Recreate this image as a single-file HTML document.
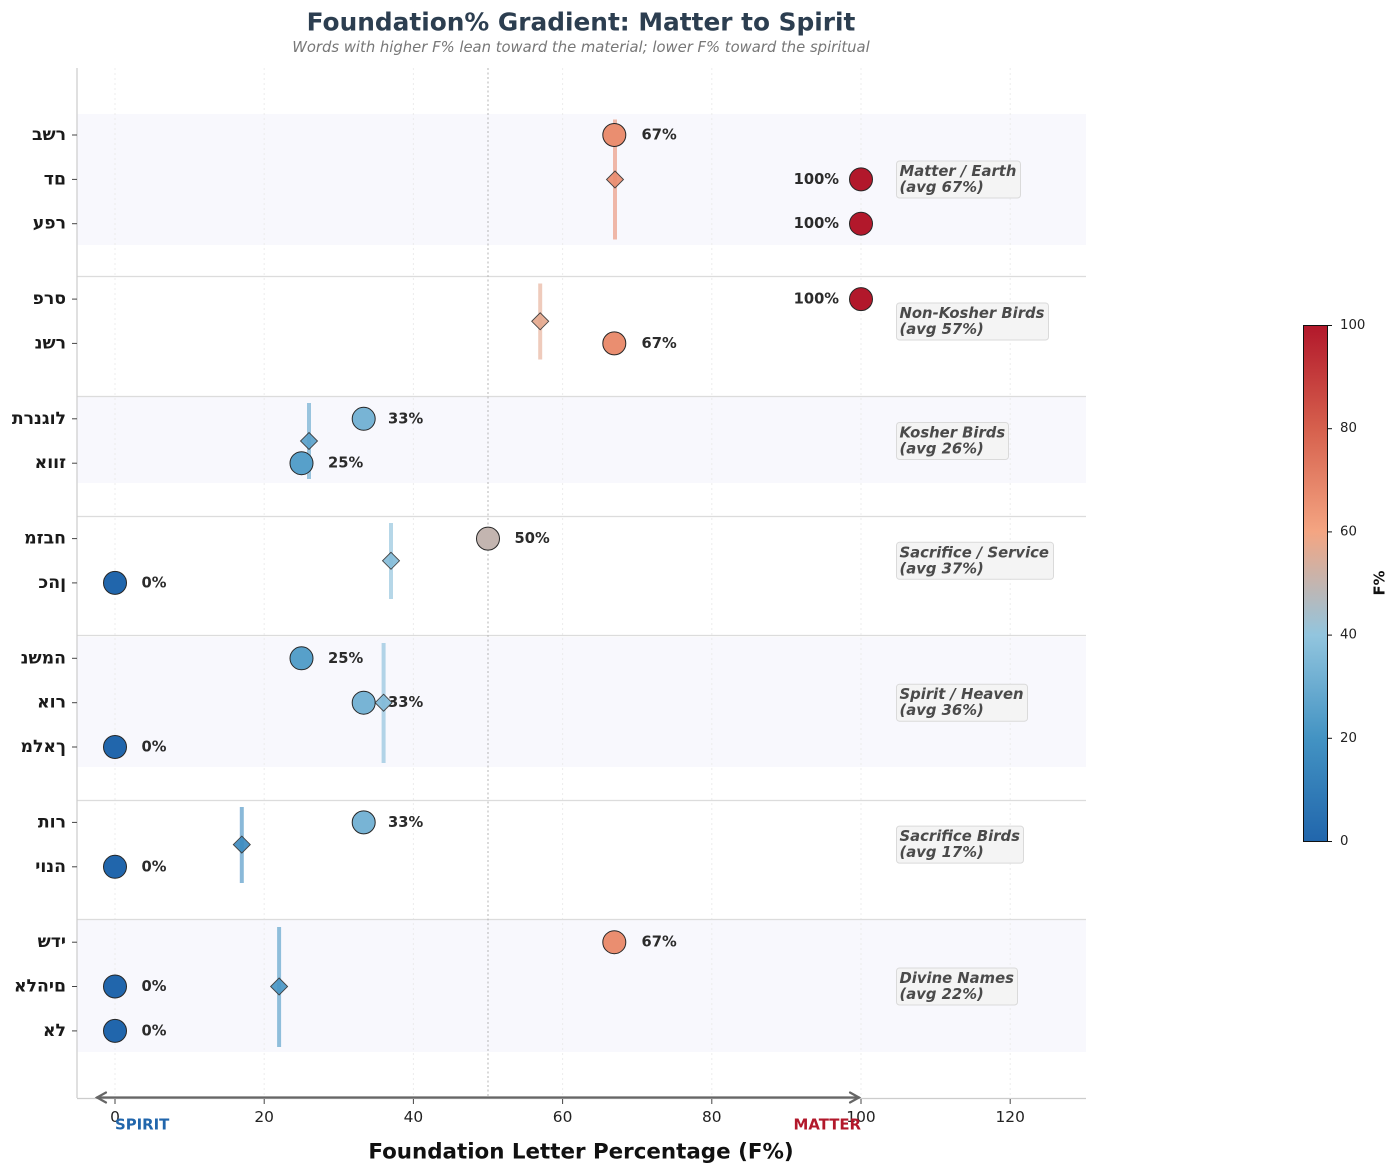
<!DOCTYPE html>
<html><head><meta charset="utf-8"><style>
html,body{margin:0;padding:0;background:#fff;}
svg{display:block;}
text{font-family:"DejaVu Sans","Liberation Sans",sans-serif;}
.heb text{direction:ltr;unicode-bidi:bidi-override;}
</style></head><body>
<svg width="1400" height="1175" viewBox="0 0 1400 1175" xmlns="http://www.w3.org/2000/svg">
<defs>
<linearGradient id="cb" x1="0" y1="1" x2="0" y2="0">
<stop offset="0" stop-color="#2166ac"/>
<stop offset="0.2" stop-color="#4393c3"/>
<stop offset="0.4" stop-color="#92c5de"/>
<stop offset="0.6" stop-color="#f4a582"/>
<stop offset="0.8" stop-color="#d6604d"/>
<stop offset="1" stop-color="#b2182b"/>
</linearGradient>
</defs>
<!-- Title -->
<text x="581" y="22" text-anchor="middle" font-size="24.8" font-weight="bold" fill="#2c3e50" dominant-baseline="central">Foundation% Gradient: Matter to Spirit</text>
<text x="581" y="47.5" text-anchor="middle" font-size="14.8" font-style="italic" fill="#777" dominant-baseline="central">Words with higher F% lean toward the material; lower F% toward the spiritual</text>

<!-- bands -->
<g fill="#f8f8fd">
<rect x="77" y="114" width="1009" height="131"/>
<rect x="77" y="397" width="1009" height="86"/>
<rect x="77" y="637" width="1009" height="130"/>
<rect x="77" y="920" width="1009" height="132"/>
</g>
<!-- grid -->
<g stroke="#ececec" stroke-width="1" stroke-dasharray="2,3">
<line x1="115" y1="68" x2="115" y2="1098"/>
<line x1="264.2" y1="68" x2="264.2" y2="1098"/>
<line x1="413.4" y1="68" x2="413.4" y2="1098"/>
<line x1="562.6" y1="68" x2="562.6" y2="1098"/>
<line x1="711.8" y1="68" x2="711.8" y2="1098"/>
<line x1="861" y1="68" x2="861" y2="1098"/>
<line x1="1010.2" y1="68" x2="1010.2" y2="1098"/>
</g>
<!-- separators -->
<g stroke="#dcdcdc" stroke-width="1.2">
<line x1="77" y1="276.5" x2="1086" y2="276.5"/>
<line x1="77" y1="396.5" x2="1086" y2="396.5"/>
<line x1="77" y1="516.5" x2="1086" y2="516.5"/>
<line x1="77" y1="635.5" x2="1086" y2="635.5"/>
<line x1="77" y1="800.5" x2="1086" y2="800.5"/>
<line x1="77" y1="919.5" x2="1086" y2="919.5"/>
</g>
<!-- midline at 50 -->
<line x1="488" y1="68" x2="488" y2="1098" stroke="#b5b5b5" stroke-width="1" stroke-dasharray="2,2.5"/>

<!-- axes spines -->
<line x1="77" y1="68" x2="77" y2="1098" stroke="#cccccc" stroke-width="1.2"/>
<line x1="77" y1="1098.5" x2="1086" y2="1098.5" stroke="#cccccc" stroke-width="1.2"/>

<!-- avg lines -->
<g stroke-width="4" opacity="0.6">
<line x1="615" y1="119.5" x2="615" y2="239.5" stroke="#ea8d70"/>
<line x1="540.2" y1="283.5" x2="540.2" y2="359.5" stroke="#e5aa90"/>
<line x1="309" y1="403" x2="309" y2="479" stroke="#5ba2cb"/>
<line x1="391" y1="523" x2="391" y2="599" stroke="#86bdda"/>
<line x1="383.6" y1="643" x2="383.6" y2="763" stroke="#82bbd9"/>
<line x1="241.8" y1="807" x2="241.8" y2="883" stroke="#3e8cc0"/>
<line x1="279.1" y1="927" x2="279.1" y2="1047" stroke="#4b98c6"/>
</g>

<!-- circles -->
<g stroke="#262626" stroke-width="1">
<circle cx="614.3" cy="135" r="11.5" fill="#ea8e70"/>
<circle cx="861" cy="179.4" r="11.5" fill="#b2182b"/>
<circle cx="861" cy="223.7" r="11.5" fill="#b2182b"/>
<circle cx="861" cy="299.1" r="11.5" fill="#b2182b"/>
<circle cx="614.3" cy="343.4" r="11.5" fill="#ea8e70"/>
<circle cx="363.7" cy="418.8" r="11.5" fill="#78b4d5"/>
<circle cx="301.5" cy="463.2" r="11.5" fill="#57a0ca"/>
<circle cx="488" cy="538.6" r="11.5" fill="#c3b5b0"/>
<circle cx="115" cy="582.9" r="11.5" fill="#2166ac"/>
<circle cx="301.5" cy="658.3" r="11.5" fill="#57a0ca"/>
<circle cx="363.7" cy="702.7" r="11.5" fill="#78b4d5"/>
<circle cx="115" cy="747" r="11.5" fill="#2166ac"/>
<circle cx="363.7" cy="822.4" r="11.5" fill="#78b4d5"/>
<circle cx="115" cy="866.8" r="11.5" fill="#2166ac"/>
<circle cx="614.3" cy="942.2" r="11.5" fill="#ea8e70"/>
<circle cx="115" cy="986.5" r="11.5" fill="#2166ac"/>
<circle cx="115" cy="1030.9" r="11.5" fill="#2166ac"/>
</g>

<!-- value labels -->
<g font-size="14.7" font-weight="bold" fill="#2b2b2b" dominant-baseline="central">
<text x="641.5" y="135">67%</text>
<text x="839" y="179.4" text-anchor="end">100%</text>
<text x="839" y="223.7" text-anchor="end">100%</text>
<text x="839" y="299.1" text-anchor="end">100%</text>
<text x="641.5" y="343.4">67%</text>
<text x="388" y="418.8">33%</text>
<text x="328" y="463.2">25%</text>
<text x="514.5" y="538.6">50%</text>
<text x="141.5" y="582.9">0%</text>
<text x="328" y="658.3">25%</text>
<text x="388" y="702.7">33%</text>
<text x="141.5" y="747">0%</text>
<text x="388" y="822.4">33%</text>
<text x="141.5" y="866.8">0%</text>
<text x="641.5" y="942.2">67%</text>
<text x="141.5" y="986.5">0%</text>
<text x="141.5" y="1030.9">0%</text>
</g>

<!-- diamonds -->
<g stroke="#333" stroke-width="0.9" opacity="0.92">
<polygon points="615,171 623.5,179.5 615,188 606.5,179.5" fill="#ea8d70"/>
<polygon points="540.2,312.8 548.7,321.3 540.2,329.8 531.7,321.3" fill="#e5aa90"/>
<polygon points="309,432.5 317.5,441 309,449.5 300.5,441" fill="#5ba2cb"/>
<polygon points="391,552.3 399.5,560.8 391,569.3 382.5,560.8" fill="#86bdda"/>
<polygon points="383.6,694.2 392.1,702.7 383.6,711.2 375.1,702.7" fill="#82bbd9"/>
<polygon points="241.8,836.1 250.3,844.6 241.8,853.1 233.3,844.6" fill="#3e8cc0"/>
<polygon points="279.1,978 287.6,986.5 279.1,995 270.6,986.5" fill="#4b98c6"/>
</g>

<!-- group label boxes -->
<g fill="#f4f4f4" stroke="#dadada" stroke-width="1">
<rect x="896.5" y="161" width="124" height="37" rx="3"/>
<rect x="896.5" y="303" width="152" height="37" rx="3"/>
<rect x="896.5" y="422.5" width="112" height="37" rx="3"/>
<rect x="896.5" y="542.3" width="157" height="37" rx="3"/>
<rect x="896.5" y="684.2" width="131" height="37" rx="3"/>
<rect x="896.5" y="826.1" width="127" height="37" rx="3"/>
<rect x="896.5" y="968" width="121" height="37" rx="3"/>
</g>
<g font-size="14.8" font-weight="bold" font-style="italic" fill="#4a4a4a" dominant-baseline="central">
<text x="899.5" y="171.4">Matter / Earth</text>
<text x="899.5" y="187.4">(avg 67%)</text>
<text x="899.5" y="313.3">Non-Kosher Birds</text>
<text x="899.5" y="329.3">(avg 57%)</text>
<text x="899.5" y="433">Kosher Birds</text>
<text x="899.5" y="449">(avg 26%)</text>
<text x="899.5" y="552.8">Sacrifice / Service</text>
<text x="899.5" y="568.8">(avg 37%)</text>
<text x="899.5" y="694.7">Spirit / Heaven</text>
<text x="899.5" y="710.7">(avg 36%)</text>
<text x="899.5" y="836.6">Sacrifice Birds</text>
<text x="899.5" y="852.6">(avg 17%)</text>
<text x="899.5" y="978.5">Divine Names</text>
<text x="899.5" y="994.5">(avg 22%)</text>
</g>

<!-- y ticks -->
<g stroke="#444" stroke-width="1">
<line x1="72" y1="135" x2="77" y2="135"/>
<line x1="72" y1="179.4" x2="77" y2="179.4"/>
<line x1="72" y1="223.7" x2="77" y2="223.7"/>
<line x1="72" y1="299.1" x2="77" y2="299.1"/>
<line x1="72" y1="343.4" x2="77" y2="343.4"/>
<line x1="72" y1="418.8" x2="77" y2="418.8"/>
<line x1="72" y1="463.2" x2="77" y2="463.2"/>
<line x1="72" y1="538.6" x2="77" y2="538.6"/>
<line x1="72" y1="582.9" x2="77" y2="582.9"/>
<line x1="72" y1="658.3" x2="77" y2="658.3"/>
<line x1="72" y1="702.7" x2="77" y2="702.7"/>
<line x1="72" y1="747" x2="77" y2="747"/>
<line x1="72" y1="822.4" x2="77" y2="822.4"/>
<line x1="72" y1="866.8" x2="77" y2="866.8"/>
<line x1="72" y1="942.2" x2="77" y2="942.2"/>
<line x1="72" y1="986.5" x2="77" y2="986.5"/>
<line x1="72" y1="1030.9" x2="77" y2="1030.9"/>
</g>
<g class="heb" font-size="17.3" font-weight="bold" fill="#1a1a1a" text-anchor="end" dominant-baseline="central">
<text x="66" y="135" direction="ltr" unicode-bidi="bidi-override">בשר</text>
<text x="66" y="179.4" direction="ltr" unicode-bidi="bidi-override">דם</text>
<text x="66" y="223.7" direction="ltr" unicode-bidi="bidi-override">עפר</text>
<text x="66" y="299.1" direction="ltr" unicode-bidi="bidi-override">פרס</text>
<text x="66" y="343.4" direction="ltr" unicode-bidi="bidi-override">נשר</text>
<text x="66" y="418.8" direction="ltr" unicode-bidi="bidi-override">תרנגול</text>
<text x="66" y="463.2" direction="ltr" unicode-bidi="bidi-override">אווז</text>
<text x="66" y="538.6" direction="ltr" unicode-bidi="bidi-override">מזבח</text>
<text x="66" y="582.9" direction="ltr" unicode-bidi="bidi-override">כהן</text>
<text x="66" y="658.3" direction="ltr" unicode-bidi="bidi-override">נשמה</text>
<text x="66" y="702.7" direction="ltr" unicode-bidi="bidi-override">אור</text>
<text x="66" y="747" direction="ltr" unicode-bidi="bidi-override">מלאך</text>
<text x="66" y="822.4" direction="ltr" unicode-bidi="bidi-override">תור</text>
<text x="66" y="866.8" direction="ltr" unicode-bidi="bidi-override">יונה</text>
<text x="66" y="942.2" direction="ltr" unicode-bidi="bidi-override">שדי</text>
<text x="66" y="986.5" direction="ltr" unicode-bidi="bidi-override">אלהים</text>
<text x="66" y="1030.9" direction="ltr" unicode-bidi="bidi-override">אל</text>
</g>

<!-- x ticks -->
<g stroke="#444" stroke-width="1">
<line x1="115" y1="1099" x2="115" y2="1104"/>
<line x1="264.2" y1="1099" x2="264.2" y2="1104"/>
<line x1="413.4" y1="1099" x2="413.4" y2="1104"/>
<line x1="562.6" y1="1099" x2="562.6" y2="1104"/>
<line x1="711.8" y1="1099" x2="711.8" y2="1104"/>
<line x1="861" y1="1099" x2="861" y2="1104"/>
<line x1="1010.2" y1="1099" x2="1010.2" y2="1104"/>
</g>
<g font-size="15.4" fill="#222" text-anchor="middle" dominant-baseline="central">
<text x="115" y="1117">0</text>
<text x="264.2" y="1117">20</text>
<text x="413.4" y="1117">40</text>
<text x="562.6" y="1117">60</text>
<text x="711.8" y="1117">80</text>
<text x="861" y="1117">100</text>
<text x="1010.2" y="1117">120</text>
</g>

<!-- arrow -->
<g stroke="#666" stroke-width="2.2" fill="none" stroke-linecap="round">
<line x1="97" y1="1097.5" x2="859" y2="1097.5"/>
<polyline points="106,1092.5 97,1097.5 106,1102.5"/>
<polyline points="850,1092.5 859,1097.5 850,1102.5"/>
</g>
<text x="115" y="1124.5" font-size="14.9" font-weight="bold" fill="#2166ac" dominant-baseline="central">SPIRIT</text>
<text x="861" y="1124.5" font-size="14.9" font-weight="bold" fill="#b2182b" text-anchor="end" dominant-baseline="central">MATTER</text>

<text x="581" y="1152" font-size="21.4" font-weight="bold" fill="#111" text-anchor="middle" dominant-baseline="central">Foundation Letter Percentage (F%)</text>

<!-- colorbar -->
<rect x="1303.5" y="325.5" width="24" height="516" fill="url(#cb)" stroke="#111" stroke-width="1"/>
<g stroke="#111" stroke-width="1">
<line x1="1328" y1="841.5" x2="1332" y2="841.5"/>
<line x1="1328" y1="738.3" x2="1332" y2="738.3"/>
<line x1="1328" y1="635.1" x2="1332" y2="635.1"/>
<line x1="1328" y1="531.9" x2="1332" y2="531.9"/>
<line x1="1328" y1="428.7" x2="1332" y2="428.7"/>
<line x1="1328" y1="325.5" x2="1332" y2="325.5"/>
</g>
<g font-size="13.3" fill="#222" dominant-baseline="central">
<text x="1340" y="841.5">0</text>
<text x="1340" y="738.3">20</text>
<text x="1340" y="635.1">40</text>
<text x="1340" y="531.9">60</text>
<text x="1340" y="428.7">80</text>
<text x="1340" y="325.5">100</text>
</g>
<text x="1380" y="583" font-size="14.8" font-weight="bold" fill="#111" text-anchor="middle" dominant-baseline="central" transform="rotate(-90 1380 583)">F%</text>
</svg>
</body></html>
